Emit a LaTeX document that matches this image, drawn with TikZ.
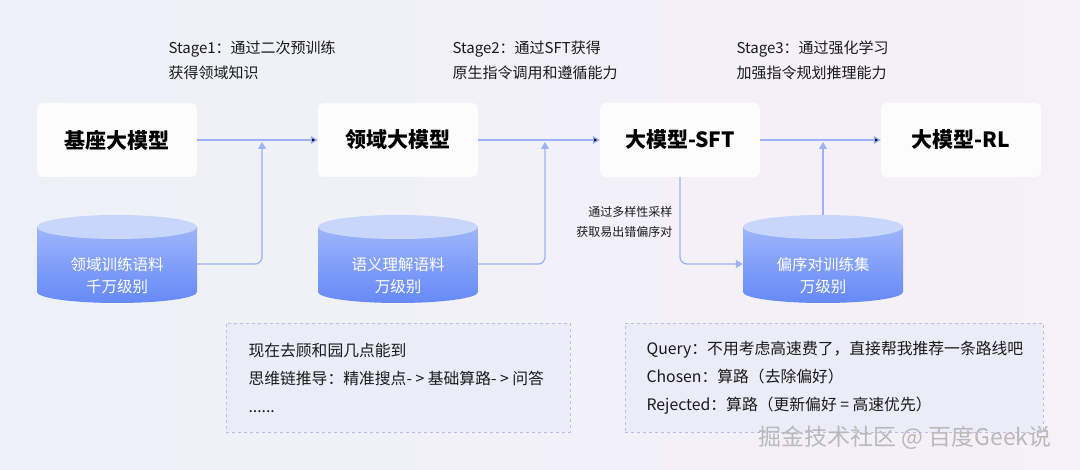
\documentclass[tikz,border=0pt]{standalone}
\usepackage{fontspec}
\setmainfont{Noto Sans CJK SC}
\setsansfont{Noto Sans CJK SC}
\usepackage{tikz}
\usetikzlibrary{arrows.meta,calc,backgrounds}

\definecolor{bgleft}{HTML}{EDF1F7}
\definecolor{bgright}{HTML}{F6F0F8}
\definecolor{flow}{HTML}{9DB2F6}
\definecolor{cyltop}{HTML}{C9D6FC}
\definecolor{cylhigh}{HTML}{A6BCFB}
\definecolor{cyllow}{HTML}{6589F7}
\definecolor{notefill}{HTML}{E9ECF9}
\definecolor{noteline}{HTML}{B9C0E4}
\definecolor{ink}{HTML}{1A1A1A}

\begin{document}
\begin{tikzpicture}[x=1pt,y=1pt,
    model/.style={rounded corners=6pt,fill=white,fill opacity=0.85,text opacity=1,
                  minimum width=160,minimum height=74,text=black,
                  font=\fontsize{21}{24}\selectfont\bfseries},
    corpus/.style={minimum width=160,minimum height=88,inner sep=0,
                   path picture={
                     \shade[top color=cylhigh,bottom color=cyllow]
                       ($(path picture bounding box.north west)+(0,-12)$)
                       -- ($(path picture bounding box.south west)+(0,11)$)
                       arc[start angle=180,end angle=360,x radius=80,y radius=11]
                       -- ($(path picture bounding box.north east)+(0,-12)$) -- cycle;
                     \fill[cyltop] ($(path picture bounding box.north)+(0,-12)$)
                       ellipse[x radius=80,y radius=12];}},
    corpus text/.style={text=white,align=center,font=\fontsize{15.5}{22}\selectfont},
    stage/.style={anchor=west,align=left,text=ink,font=\fontsize{15}{25}\selectfont},
    note/.style={draw=noteline,dashed,fill=notefill,fill opacity=0.8,
                 minimum height=109,inner sep=0},
    note text/.style={anchor=west,align=left,text=ink,font=\fontsize{15.8}{28}\selectfont},
    flow/.style={draw=flow,line width=1.3pt,rounded corners=7pt,
                 -{Triangle[width=8pt,length=7pt]}}]
  % background
  \shade[left color=bgleft,right color=bgright] (0,0) rectangle (1080,469);

  %stages%
  \node[stage] (s1) at (165,409) {Stage1：通过二次预训练\\获得领域知识};
  \node[stage] (s2) at (449,409) {Stage2：通过SFT获得\\原生指令调用和遵循能力};
  \node[stage] (s3) at (733,409) {Stage3：通过强化学习\\加强指令规划推理能力};

  %models%
  \node[model] (base) at (117,329) {基座大模型};
  \node[model] (domain) at (398,329) {领域大模型};
  \node[model] (sft) at (680,329) {大模型-SFT};
  \node[model] (rl) at (961,329) {大模型-RL};

  %corpora%
  \node[corpus] (c1) at (117,210) {};
  \node[corpus] (c2) at (398,210) {};
  \node[corpus] (c3) at (823,210) {};
  \node[corpus text] (t1) at ([yshift=-17]c1.center) {领域训练语料\\千万级别};
  \node[corpus text] (t2) at ([yshift=-17]c2.center) {语义理解语料\\万级别};
  \node[corpus text] (t3) at ([yshift=-17]c3.center) {偏序对训练集\\万级别};

  \coordinate (j1) at (262,327);
  \coordinate (j2) at (545,327);
  \coordinate (j3) at (823,327);

  \path[flow]
    (base) edge (domain)
    (domain) edge (sft)
    (sft) edge (rl);
  \draw[flow] ([yshift=-5]c1.east) -| (j1);
  \draw[flow] ([yshift=-5]c2.east) -| (j2);
  \draw[flow] (c3.north) -- (j3);
  \draw[flow] (sft.south) |- ([yshift=-5]c3.west);

  \node[anchor=east,align=right,text=ink,font=\fontsize{12}{20}\selectfont]
    (sample) at (676,247) {通过多样性采样\\获取易出错偏序对};

  %examples%
  \node[note,minimum width=344] (n1) at (398,91.5) {};
  \node[note,minimum width=418] (n2) at (834,91.5) {};
  \node[note text] (e1) at (245,91) {现在去顾和园几点能到\\思维链推导：精准搜点- > 基础算路- > 问答\\......};
  \node[note text] (e2) at (643,91) {Query：不用考虑高速费了，直接帮我推荐一条路线吧\\Chosen：算路（去除偏好）\\Rejected：算路（更新偏好 = 高速优先）};

  \node[text=gray!55,font=\fontsize{23}{26}\selectfont] (mark) at (905,31)
    {掘金技术社区 @ 百度Geek说};
\end{tikzpicture}
\end{document}
